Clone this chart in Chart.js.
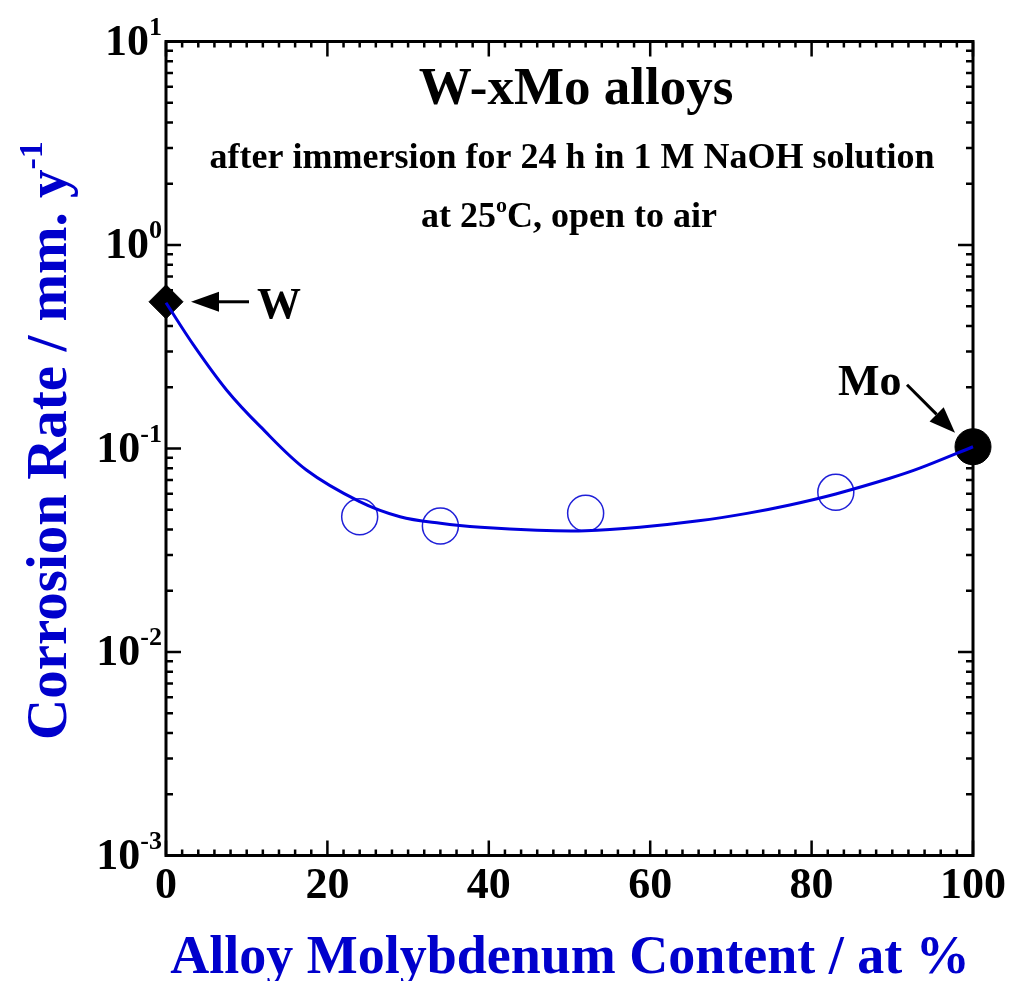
<!DOCTYPE html>
<html>
<head>
<meta charset="utf-8">
<script src="https://cdn.jsdelivr.net/npm/chart.js@4.4.0/dist/chart.umd.min.js"></script>
<style>
  body { margin: 0; background: #fff; }
  canvas { display: block; }
</style>
</head>
<body>
<canvas id="corrosionChart" width="1009" height="981"></canvas>
<script>
const FONT = '"Liberation Serif", "Times New Roman", serif';
const BLUE = '#0000cc';

// W-xMo alloys, measured points (open circles)
const moContent = [24, 34, 52, 83];
const corrosionRate = [0.0462, 0.0416, 0.0481, 0.0609];

// pure metals
const pureW = [{ x: 0, y: 0.526 }];
const pureMo = [{ x: 100, y: 0.102 }];

// trend curve through the series
const fitX = [0, 3.4, 7.5, 11.7, 17.4, 24, 29, 34, 39, 46, 52, 58.7, 66, 72, 77.3, 83, 89.7, 93.4, 100];
const fitY = [0.52, 0.323, 0.194, 0.128, 0.0784, 0.0548, 0.0462, 0.0429, 0.041, 0.0396, 0.0394, 0.041, 0.0441, 0.048, 0.0528, 0.0598, 0.0714, 0.08, 0.102];

const xTicks = [0, 20, 40, 60, 80, 100];
const yExponents = [-3, -2, -1, 0, 1];

const font = (size) => `bold ${size}px ${FONT}`;

// draws a run of [text, isSuperscript] pieces starting at x
function drawRuns(ctx, runs, x, y, size, supSize, supRise) {
    let cx = x;
    runs.forEach(([txt, sup]) => {
        ctx.font = font(sup ? supSize : size);
        ctx.fillText(txt, cx, sup ? y - supRise : y);
        cx += ctx.measureText(txt).width;
    });
}

function runsWidth(ctx, runs, size, supSize) {
    return runs.reduce((w, [txt, sup]) => {
        ctx.font = font(sup ? supSize : size);
        return w + ctx.measureText(txt).width;
    }, 0);
}

function arrow(ctx, x1, y1, x2, y2, headLen, headHalf) {
    const ang = Math.atan2(y2 - y1, x2 - x1);
    const bx = x2 - Math.cos(ang) * headLen;
    const by = y2 - Math.sin(ang) * headLen;
    ctx.beginPath();
    ctx.moveTo(x1, y1);
    ctx.lineTo(bx, by);
    ctx.lineWidth = 3;
    ctx.stroke();
    ctx.beginPath();
    ctx.moveTo(x2, y2);
    ctx.lineTo(bx + Math.sin(ang) * headHalf, by - Math.cos(ang) * headHalf);
    ctx.lineTo(bx - Math.sin(ang) * headHalf, by + Math.cos(ang) * headHalf);
    ctx.closePath();
    ctx.fill();
}

const framePlugin = {
    id: 'framePlugin',
    beforeDatasetsDraw(chart) {
        const { ctx, chartArea: a, scales: { x, y } } = chart;
        ctx.save();
        ctx.strokeStyle = '#000';
        ctx.lineCap = 'butt';

        // x ticks, bottom and top
        ctx.lineWidth = 2.5;
        for (let v = 0; v <= 100; v += 2) {
            const px = x.getPixelForValue(v);
            const len = v % 20 === 0 ? 15 : 6;
            ctx.beginPath();
            ctx.moveTo(px, a.bottom); ctx.lineTo(px, a.bottom - len);
            ctx.moveTo(px, a.top); ctx.lineTo(px, a.top + len);
            ctx.stroke();
        }
        // log y ticks, left and right
        yExponents.forEach(e => {
            for (let m = 1; m <= 9; m++) {
                if (e === 1 && m > 1) break;
                const py = y.getPixelForValue(m * Math.pow(10, e));
                const len = m === 1 ? 15 : 7;
                ctx.beginPath();
                ctx.moveTo(a.left, py); ctx.lineTo(a.left + len, py);
                ctx.moveTo(a.right, py); ctx.lineTo(a.right - len, py);
                ctx.stroke();
            }
        });

        ctx.lineWidth = 3;
        ctx.strokeRect(a.left, a.top, a.right - a.left, a.bottom - a.top);

        // tick labels
        ctx.fillStyle = '#000';
        ctx.textBaseline = 'alphabetic';
        ctx.textAlign = 'left';
        xTicks.forEach(v => {
            ctx.font = font(44);
            const s = String(v);
            const w = ctx.measureText(s).width;
            ctx.fillText(s, x.getPixelForValue(v) - w / 2, a.bottom + 42);
        });
        yExponents.forEach(e => {
            const runs = [['10', false], [String(e), true]];
            const w = runsWidth(ctx, runs, 44, 26);
            drawRuns(ctx, runs, a.left - 4 - w, y.getPixelForValue(Math.pow(10, e)) + 13, 44, 26, 20);
        });
        ctx.restore();
    },
    afterDraw(chart) {
        const { ctx, chartArea: a, scales: { x, y } } = chart;
        ctx.save();
        ctx.textBaseline = 'alphabetic';
        ctx.textAlign = 'left';
        ctx.fillStyle = '#000';
        ctx.strokeStyle = '#000';

        // heading inside the frame
        let runs = [['W-xMo alloys', false]];
        drawRuns(ctx, runs, 576 - runsWidth(ctx, runs, 53, 30) / 2, 104, 53, 30, 0);
        runs = [['after immersion for 24 h in 1 M NaOH solution', false]];
        drawRuns(ctx, runs, 572 - runsWidth(ctx, runs, 36, 22) / 2, 168, 36, 22, 0);
        runs = [['at 25', false], ['o', true], ['C, open to air', false]];
        drawRuns(ctx, runs, 569 - runsWidth(ctx, runs, 36, 22) / 2, 227, 36, 22, 15);

        // labels for the pure metals
        const wx = x.getPixelForValue(pureW[0].x), wy = y.getPixelForValue(pureW[0].y);
        arrow(ctx, wx + 83, wy, wx + 25, wy, 28, 10);
        ctx.font = font(44);
        ctx.fillText('W', wx + 91, wy + 16);

        const mx = x.getPixelForValue(pureMo[0].x), my = y.getPixelForValue(pureMo[0].y);
        arrow(ctx, mx - 66, my - 62, mx - 18, my - 14, 26, 10);
        ctx.fillText('Mo', mx - 135, my - 52);

        // axis titles
        ctx.fillStyle = BLUE;
        runs = [['Alloy Molybdenum Content / at %', false]];
        drawRuns(ctx, runs, 570 - runsWidth(ctx, runs, 54, 34) / 2, 973, 54, 34, 0);

        ctx.translate(66, 740);
        ctx.rotate(-Math.PI / 2);
        runs = [['Corrosion Rate / mm. y', false], ['-1', true]];
        drawRuns(ctx, runs, 0, 0, 57, 34, 24);
        ctx.restore();
    }
};

const ctx = document.getElementById('corrosionChart').getContext('2d');
new Chart(ctx, {
    type: 'scatter',
    data: {
        datasets: [
            {
                label: 'fit',
                type: 'line',
                data: fitX.map((v, i) => ({ x: v, y: fitY[i] })),
                borderColor: '#0000dd',
                borderWidth: 3,
                pointRadius: 0,
                fill: false,
                tension: 0.35,
                clip: false,
                order: 0
            },
            {
                label: 'W-xMo',
                data: moContent.map((v, i) => ({ x: v, y: corrosionRate[i] })),
                pointStyle: 'circle',
                pointRadius: 18,
                backgroundColor: 'rgba(0,0,0,0)',
                borderColor: '#2020d8',
                borderWidth: 1.5,
                clip: false,
                order: 1
            },
            {
                label: 'W',
                data: pureW,
                pointStyle: 'rectRot',
                pointRadius: 17,
                backgroundColor: '#000',
                borderColor: '#000',
                borderWidth: 1,
                clip: false,
                order: 1
            },
            {
                label: 'Mo',
                data: pureMo,
                pointStyle: 'circle',
                pointRadius: 18,
                backgroundColor: '#000',
                borderColor: '#000',
                borderWidth: 1,
                clip: false,
                order: 1
            }
        ]
    },
    options: {
        responsive: false,
        animation: false,
        layout: { padding: { left: 166, right: 36, top: 41.5, bottom: 125.5 } },
        plugins: { legend: { display: false }, tooltip: { enabled: false } },
        scales: {
            x: { type: 'linear', min: 0, max: 100, display: false },
            y: { type: 'logarithmic', min: 0.001, max: 10, display: false }
        }
    },
    plugins: [framePlugin]
});
</script>
</body>
</html>
